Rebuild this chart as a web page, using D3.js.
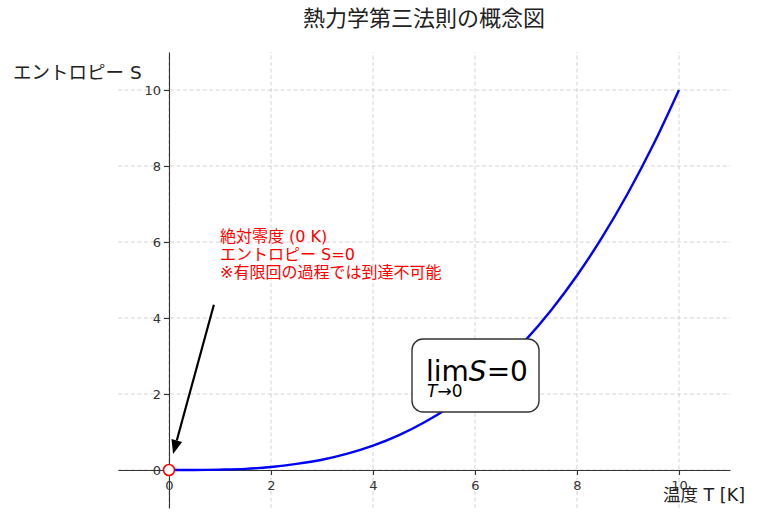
<!DOCTYPE html>
<html>
<head>
<meta charset="utf-8">
<script src="https://cdn.jsdelivr.net/npm/d3@7"></script>
<style>
  body { margin: 0; background: #fff; }
  svg { display: block; }
  .tick text { font-family: "DejaVu Sans", sans-serif; font-size: 13px; fill: #333; }
  .jp { font-family: "DejaVu Sans", "Noto Sans CJK JP", sans-serif; }
</style>
</head>
<body>
<svg id="chart"></svg>
<script>
// temperature T and entropy S
const temps = [0, 0.5, 1, 1.5, 2, 2.5, 3, 3.5, 4, 4.5, 5, 5.5, 6, 6.5, 7, 7.5, 8, 8.5, 9, 9.5, 10];
const entropy = [0, 0.001, 0.01, 0.03, 0.08, 0.16, 0.27, 0.43, 0.64, 0.91, 1.25, 1.66, 2.16, 2.75, 3.43, 4.22, 5.12, 6.14, 7.29, 8.57, 10.0];
const ticks = [0, 2, 4, 6, 8, 10];
const note_lines = ["絶対零度 (0 K)", "エントロピー S=0", "※有限回の過程では到達不可能"];
const note_pos = [1.0, 6.0];
const arrow_from = [0.88, 4.35];
const arrow_to = [0.08, 0.42];
const lim_pos = [6.0, 2.5];

const width = 757, height = 520;
const margin = { top: 52, right: 27, bottom: 12, left: 118 };

const svg = d3.select("#chart").attr("width", width).attr("height", height);

const X = d3.scaleLinear().domain([-1, 11]).range([margin.left, width - margin.right]);
const Y = d3.scaleLinear().domain([-1, 11]).range([height - margin.bottom, margin.top]);

// grid
const grid = svg.append("g").attr("class", "grid");
grid.selectAll(".vg").data(ticks).join("line")
  .attr("x1", d => X(d)).attr("x2", d => X(d))
  .attr("y1", Y(-1)).attr("y2", Y(11))
  .attr("stroke", "#b0b0b0").attr("stroke-opacity", 0.6)
  .attr("stroke-dasharray", "4,2.5").attr("stroke-width", 0.9);
grid.selectAll(".hg").data(ticks).join("line")
  .attr("x1", X(-1)).attr("x2", X(11))
  .attr("y1", d => Y(d)).attr("y2", d => Y(d))
  .attr("stroke", "#b0b0b0").attr("stroke-opacity", 0.6)
  .attr("stroke-dasharray", "4,2.5").attr("stroke-width", 0.9);

// axes through the origin
const xAxis = d3.axisBottom(X).tickValues(ticks).tickSizeInner(5).tickSizeOuter(0).tickPadding(6);
const yAxis = d3.axisLeft(Y).tickValues(ticks).tickSizeInner(5).tickSizeOuter(0).tickPadding(3);

const gx = svg.append("g").attr("transform", `translate(0,${Y(0)})`).call(xAxis);
const gy = svg.append("g").attr("transform", `translate(${X(0)},0)`).call(yAxis);
for (const g of [gx, gy]) {
  g.select(".domain").attr("stroke", "#333").attr("stroke-width", 1.1);
  g.selectAll(".tick line").attr("stroke", "#333").attr("stroke-width", 1.1);
}

// curve
const line = d3.line()
  .x((d, i) => X(temps[i]))
  .y(d => Y(d))
  .curve(d3.curveMonotoneX);
svg.append("path")
  .datum(entropy)
  .attr("d", line)
  .attr("fill", "none")
  .attr("stroke", "#0000ff")
  .attr("stroke-width", 2.4);

// origin marker
svg.append("circle")
  .attr("cx", X(temps[0])).attr("cy", Y(entropy[0])).attr("r", 5.5)
  .attr("fill", "#fff").attr("stroke", "#ff0000").attr("stroke-width", 1.6);

// arrow
const ax1 = X(arrow_from[0]), ay1 = Y(arrow_from[1]);
const ax2 = X(arrow_to[0]), ay2 = Y(arrow_to[1]);
const ang = Math.atan2(ay2 - ay1, ax2 - ax1);
const headLen = 14, headW = 5.5;
const bx = ax2 - headLen * Math.cos(ang), by = ay2 - headLen * Math.sin(ang);
svg.append("line")
  .attr("x1", ax1).attr("y1", ay1).attr("x2", bx).attr("y2", by)
  .attr("stroke", "#000").attr("stroke-width", 2.2);
svg.append("path")
  .attr("d", [
    "M", ax2, ay2,
    "L", bx + headW * Math.sin(ang), by - headW * Math.cos(ang),
    "L", bx - headW * Math.sin(ang), by + headW * Math.cos(ang),
    "Z"].join(" "))
  .attr("fill", "#000");

// note text
const note = svg.append("text")
  .attr("class", "jp")
  .attr("x", X(note_pos[0]))
  .attr("y", Y(note_pos[1]))
  .attr("fill", "#ff0000")
  .style("font-size", "16px");
note.selectAll("tspan").data(note_lines).join("tspan")
  .attr("x", X(note_pos[0]))
  .attr("dy", (d, i) => i === 0 ? 0 : 18)
  .text(d => d);

// lim box
const lx = X(lim_pos[0]), ly = Y(lim_pos[1]);
svg.append("rect")
  .attr("x", lx - 63).attr("y", ly - 36).attr("width", 127).attr("height", 73)
  .attr("rx", 11).attr("ry", 11)
  .attr("fill", "#fff").attr("stroke", "#333").attr("stroke-width", 1.4);
const lim = svg.append("text")
  .attr("x", lx - 49).attr("y", ly + 6)
  .style("font-family", "DejaVu Sans, sans-serif")
  .style("font-size", "28px").attr("fill", "#000");
lim.append("tspan").text("lim");
lim.append("tspan").style("font-style", "italic").text("S");
lim.append("tspan").text("=0");
const sub = svg.append("text")
  .attr("x", lx - 48).attr("y", ly + 22)
  .style("font-family", "DejaVu Sans, sans-serif")
  .style("font-size", "17px").attr("fill", "#000");
sub.append("tspan").style("font-style", "italic").text("T");
sub.append("tspan").text("→0");

// labels
svg.append("text").attr("class", "jp")
  .attr("x", X(5)).attr("y", 26)
  .attr("text-anchor", "middle")
  .style("font-size", "22px").attr("fill", "#222")
  .text("熱力学第三法則の概念図");
svg.append("text").attr("class", "jp")
  .attr("x", 13).attr("y", 79)
  .style("font-size", "18.5px").attr("fill", "#222")
  .text("エントロピー S");
svg.append("text").attr("class", "jp")
  .attr("x", 745).attr("y", 501)
  .attr("text-anchor", "end")
  .style("font-size", "17.5px").attr("fill", "#222")
  .text("温度 T [K]");
</script>
</body>
</html>
